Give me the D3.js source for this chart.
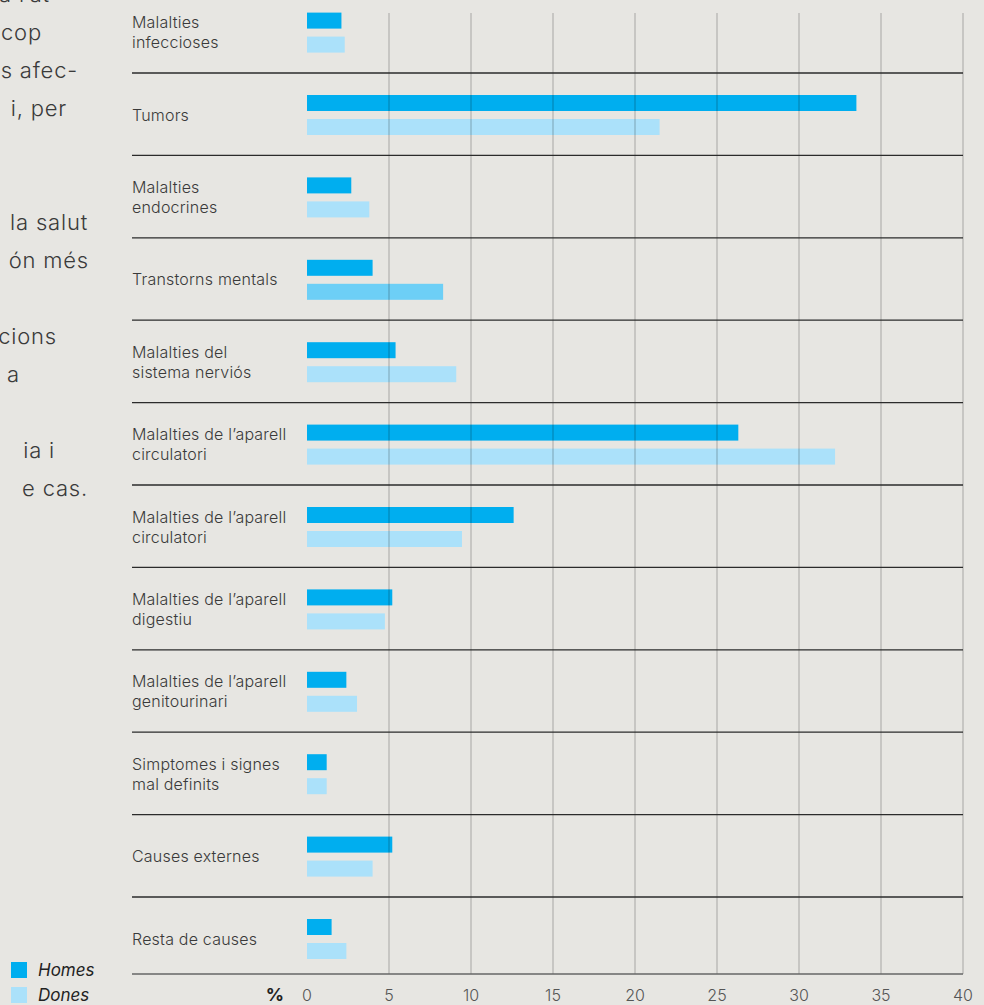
<!DOCTYPE html>
<html>
<head>
<meta charset="utf-8">
<script src="https://cdn.jsdelivr.net/npm/d3@7"></script>
<style>
  body { margin: 0; background: #e7e6e2; }
  svg { display: block; }
</style>
</head>
<body>
<div id="chart"></div>
<script>
// Causes de mort per sexe (%)
const categories = [
    "Malalties\ninfeccioses",
    "Tumors",
    "Malalties\nendocrines",
    "Transtorns mentals",
    "Malalties del\nsistema nerviós",
    "Malalties de l’aparell\ncirculatori",
    "Malalties de l’aparell\ncirculatori",
    "Malalties de l’aparell\ndigestiu",
    "Malalties de l’aparell\ngenitourinari",
    "Simptomes i signes\nmal definits",
    "Causes externes",
    "Resta de causes"
];
const homes = [2.1, 33.5, 2.7, 4.0, 5.4, 26.3, 12.6, 5.2, 2.4, 1.2, 5.2, 1.5];
const dones = [2.3, 21.5, 3.8, 8.3, 9.1, 32.2, 9.45, 4.75, 3.05, 1.2, 4.0, 2.4];
const series = ["Homes", "Dones"];
const tickValues = [0, 5, 10, 15, 20, 25, 30, 35, 40];

// text column on the left, cut by the page edge
const introLines = ["s a l’at", "cop", "s afec-", "i, per", "", "", "la salut", "ón més", "", "cions", "a", "", "ia i", "e cas."];
const introEnds = [50, 42, 78, 67, 0, 0, 88, 89, 0, 57, 20, 0, 55, 88];

const width = 984;
const height = 1005;
const colors = { Homes: "#00aeef", Dones: "#abe1fa" };
const highlightDones = "#6dcff6";
const fontFamily = "Inter, 'Noto Sans', sans-serif";

const svg = d3.select("#chart")
    .append("svg")
    .attr("width", width)
    .attr("height", height)
    .style("background", "#e7e6e2");

const x = d3.scaleLinear()
    .domain([0, 40])
    .range([307, 963]);

const y = d3.scaleBand()
    .domain(d3.range(categories.length))
    .range([-9.4, 979.4])
    .padding(0);

const ySub = d3.scaleBand()
    .domain(series)
    .range([22, 62])
    .paddingInner(1 / 3);

const rows = categories.map((c, i) => ({ label: c, i, Homes: homes[i], Dones: dones[i] }));

// intro paragraph
svg.append("g")
    .selectAll("text")
    .data(introLines)
    .join("text")
    .attr("x", (d, i) => introEnds[i])
    .attr("y", (d, i) => -6 + i * 38 + 8)
    .attr("text-anchor", "end")
    .style("font-family", fontFamily)
    .style("font-weight", 300)
    .style("font-size", "22px")
    .style("letter-spacing", "0.8px")
    .style("fill", "#3a3a3a")
    .text(d => d);

// bars
const rowG = svg.append("g")
    .selectAll("g")
    .data(rows)
    .join("g")
    .attr("transform", d => `translate(0,${y(d.i)})`);

rowG.selectAll("rect")
    .data(d => series.map(s => ({ key: s, value: d[s], i: d.i })))
    .join("rect")
    .attr("x", x(0))
    .attr("y", d => ySub(d.key))
    .attr("width", d => x(d.value) - x(0))
    .attr("height", ySub.bandwidth())
    .attr("fill", d => (d.key === "Dones" && d.i === 3) ? highlightDones : colors[d.key]);

// category labels
rowG.append("text")
    .attr("x", 132)
    .attr("y", d => {
        const n = d.label.split("\n").length;
        return y.bandwidth() / 2 + 6.5 - (n - 1) * 10;
    })
    .style("font-family", fontFamily)
    .style("font-weight", 300)
    .style("font-size", "16px")
    .style("letter-spacing", "0.2px")
    .style("fill", "#3a3a3a")
    .selectAll("tspan")
    .data(d => d.label.split("\n"))
    .join("tspan")
    .attr("x", 132)
    .attr("dy", (d, i) => i === 0 ? 0 : 20)
    .text(d => d);

// vertical grid lines (drawn over the bars)
svg.append("g")
    .selectAll("line")
    .data(tickValues.filter(t => t > 0))
    .join("line")
    .attr("x1", d => x(d))
    .attr("x2", d => x(d))
    .attr("y1", 13)
    .attr("y2", 974)
    .attr("stroke", "#000")
    .attr("stroke-opacity", 0.2)
    .attr("stroke-width", 1.4);

// row separators
svg.append("g")
    .selectAll("line")
    .data(d3.range(1, categories.length))
    .join("line")
    .attr("x1", 132)
    .attr("x2", x(40))
    .attr("y1", d => y(d))
    .attr("y2", d => y(d))
    .attr("stroke", "#2b2b2b")
    .attr("stroke-width", 1.3);

// bottom axis line
svg.append("line")
    .attr("x1", 132)
    .attr("x2", x(40))
    .attr("y1", 974)
    .attr("y2", 974)
    .attr("stroke", "#666")
    .attr("stroke-width", 1.6);

// tick labels
svg.append("g")
    .selectAll("text")
    .data(tickValues)
    .join("text")
    .attr("x", d => x(d))
    .attr("y", 1001)
    .attr("text-anchor", "middle")
    .style("font-family", fontFamily)
    .style("font-weight", 300)
    .style("font-size", "16px")
    .style("fill", "#555")
    .text(d => d);

svg.append("text")
    .attr("x", 284)
    .attr("y", 1001)
    .attr("text-anchor", "end")
    .style("font-family", fontFamily)
    .style("font-weight", 700)
    .style("font-size", "18px")
    .style("fill", "#222")
    .text("%");

// legend
const legend = svg.append("g")
    .selectAll("g")
    .data(series)
    .join("g")
    .attr("transform", (d, i) => `translate(11,${962 + i * 25})`);

legend.append("rect")
    .attr("width", 16)
    .attr("height", 16)
    .attr("fill", d => colors[d]);

legend.append("text")
    .attr("x", 27)
    .attr("y", 14)
    .style("font-family", fontFamily)
    .style("font-style", "italic")
    .style("font-size", "17px")
    .style("fill", "#222")
    .text(d => d);
</script>
</body>
</html>
